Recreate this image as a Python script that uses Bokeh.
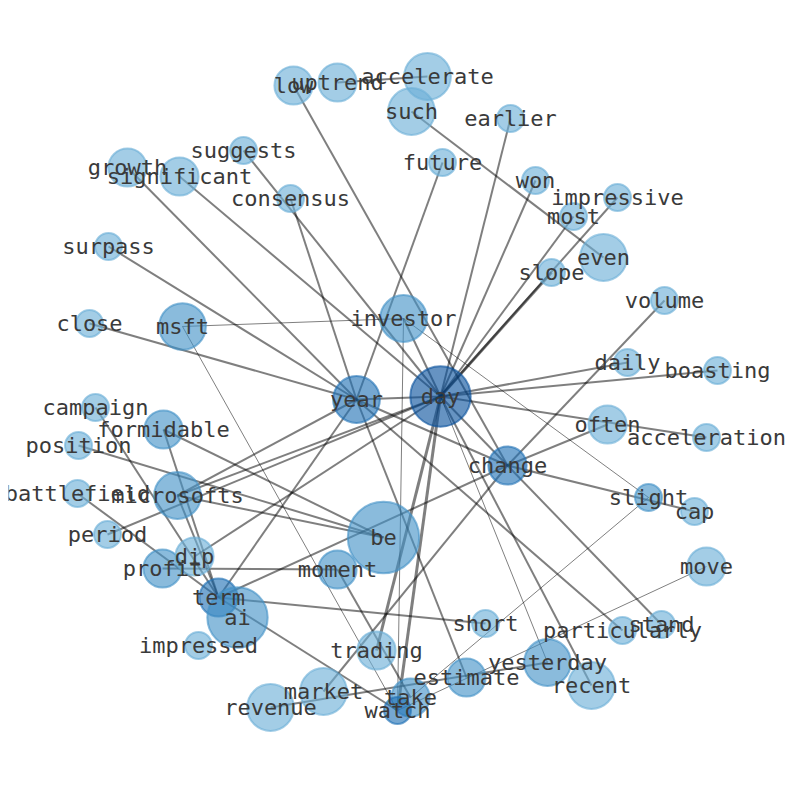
from bokeh.plotting import figure
from bokeh.models import ColumnDataSource, Range1d
from bokeh.core.properties import value
from bokeh.embed import file_html
from bokeh.resources import INLINE

# word network: layout position (image-like space, y down), frequency, shade level
words = ["day", "year", "investor", "be", "change", "microsofts", "msft", "formidable",
         "campaign", "position", "battlefield", "period", "profit", "dip", "term", "ai",
         "impressed", "moment", "trading", "market", "revenue", "take", "watch", "estimate",
         "short", "yesterday", "recent", "particularly", "stand", "move", "slight", "cap",
         "often", "acceleration", "daily", "boasting", "volume", "even", "slope", "most",
         "impressive", "won", "earlier", "future", "such", "accelerate", "uptrend", "low",
         "suggests", "significant", "growth", "consensus", "surpass", "close"]
pos_x = [440, 356, 403, 383, 507, 177, 182, 163, 95, 78, 77, 107, 162, 194, 218, 237,
         198, 337, 376, 323, 270, 410, 397, 466, 485, 547, 591, 622, 661, 706, 648, 694,
         607, 706, 627, 717, 664, 603, 551, 573, 617, 535, 510, 442, 411, 427, 337, 293,
         243, 179, 127, 290, 108, 89]
pos_y = [396, 399, 318, 537, 465, 495, 326, 429, 407, 445, 493, 534, 568, 556, 597, 617,
         645, 569, 650, 691, 707, 697, 710, 677, 623, 662, 685, 630, 624, 566, 497, 511,
         424, 437, 362, 370, 300, 257, 272, 216, 197, 180, 118, 162, 111, 76, 82, 85,
         150, 176, 167, 198, 246, 323]
freq = [5, 3, 3, 7, 2, 3, 3, 2, 1, 1, 1, 1, 2, 2, 2, 5,
        1, 2, 2, 3, 3, 2, 1, 2, 1, 3, 3, 1, 1, 2, 1, 1,
        2, 1, 1, 1, 1, 3, 1, 1, 1, 1, 1, 1, 3, 3, 2, 2,
        1, 2, 2, 1, 1, 1]
level = [4, 3, 2, 2, 3, 2, 2, 2, 1, 1, 1, 1, 2, 1, 3, 2,
         1, 2, 1, 1, 1, 2, 3, 2, 1, 2, 1, 1, 1, 1, 2, 1,
         1, 1, 1, 1, 1, 1, 1, 1, 1, 1, 1, 1, 1, 1, 1, 1,
         1, 1, 1, 1, 1, 1]

edge_src = ["day", "day", "day", "day", "day", "day", "day", "day", "day", "day",
            "day", "day", "day", "day", "day", "day", "day", "day", "day", "day",
            "year", "year", "year", "year", "year", "year", "year", "year", "year", "year",
            "investor", "investor", "investor", "change", "change", "change", "change",
            "change", "change", "change", "be", "be", "be", "term", "term", "term", "term",
            "term", "term", "profit", "moment", "revenue", "take", "watch", "msft",
            "uptrend", "such"]
edge_dst = ["year", "change", "earlier", "won", "most", "impressive", "slope", "daily",
            "boasting", "acceleration", "recent", "yesterday", "trading", "watch",
            "significant", "suggests", "microsofts", "dip", "period", "investor",
            "growth", "surpass", "close", "consensus", "future", "microsofts", "term",
            "change", "particularly", "estimate",
            "msft", "slight", "watch", "volume", "often", "stand", "market", "term",
            "low", "cap", "formidable", "position", "microsofts", "campaign",
            "formidable", "microsofts", "battlefield", "short", "watch", "moment",
            "take", "yesterday", "slight", "move", "watch", "accelerate", "even"]
edge_weight = [2, 2, 2, 2, 2, 2, 3, 2, 2, 2,
               2, 1, 3, 3, 2, 2, 2, 2, 2, 2,
               2, 2, 2, 2, 2, 2, 2, 2, 2, 2,
               1, 1, 1, 2, 2, 2, 2, 2, 2, 2, 2, 2, 2, 2, 2, 2, 2,
               2, 2, 2, 2, 2, 1, 1, 1, 2, 2]

blues = {1: "#6baed6", 2: "#4292c6", 3: "#2171b5", 4: "#08519c"}

lookup = {w: (x, y) for w, x, y in zip(words, pos_x, pos_y)}
edges = ColumnDataSource(data=dict(
    x0=[lookup[s][0] for s in edge_src],
    y0=[lookup[s][1] for s in edge_src],
    x1=[lookup[d][0] for d in edge_dst],
    y1=[lookup[d][1] for d in edge_dst],
    w=edge_weight,
))
nodes = ColumnDataSource(data=dict(
    x=pos_x, y=pos_y, word=words,
    size=[27 * f ** 0.5 for f in freq],
    color=[blues[l] for l in level],
))

p = figure(width=794, height=790, x_range=Range1d(8, 794), y_range=Range1d(790, 0),
           toolbar_location=None, output_backend="svg",
           min_border=0, min_border_left=8)
p.axis.visible = False
p.grid.visible = False
p.outline_line_color = None

p.segment("x0", "y0", "x1", "y1", source=edges, line_color="black",
          line_alpha=0.5, line_width="w")
p.scatter("x", "y", source=nodes, size="size", fill_color="color", line_color="color",
          fill_alpha=0.62, line_alpha=0.62, line_width=2)
p.text("x", "y", text="word", source=nodes, text_align="center",
       text_baseline="middle", text_font=value("DejaVu Sans Mono"),
       text_font_size="22px", text_color="#3a3a3a")

open("out.html", "w").write(file_html(p, INLINE))
